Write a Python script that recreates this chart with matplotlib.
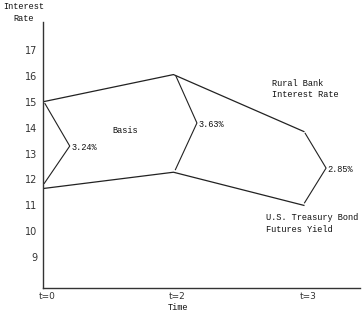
import matplotlib
matplotlib.use("Agg")
import matplotlib.pyplot as plt
import matplotlib.transforms as mtransforms

# Data
time_labels = ["t=0", "t=2", "t=3"]
time_pos = [0, 1, 2]
rural_bank_rate = [15.0, 16.05, 13.85]
treasury_yield = [11.65, 12.28, 11.0]
basis_labels = ["3.24%", "3.63%", "2.85%"]
y_ticks = [9, 10, 11, 12, 13, 14, 15, 16, 17]

MONO = "Liberation Mono"
LC = "#222222"
FS = 6.2

fig = plt.figure(figsize=(3.62, 3.20), dpi=100)
ax = fig.add_axes([43/362, 32/320, (360-43)/362, (288-22)/320])

ax.plot(time_pos, rural_bank_rate, color=LC, lw=0.9)
ax.plot(time_pos, treasury_yield, color=LC, lw=0.9)

# basis brackets (drawn between the two series at each time point)
offsets = [(0.015, 0.19), (0.02, 0.16), (0.01, 0.16)]
for i, (x, top, bot, lab) in enumerate(zip(time_pos, rural_bank_rate, treasury_yield, basis_labels)):
    x0, dx = offsets[i]
    t = top - 0.07
    b = bot + 0.2 if i == 0 else bot + 0.1
    mid = (t + b) / 2 - (0.0 if i else 0.1)
    ax.plot([x + x0, x + x0 + dx, x + x0 - 0.005], [t, mid, b], color=LC, lw=0.8)
    ax.text(x + x0 + dx + 0.01, mid - 0.05, lab, fontsize=FS, family=MONO,
            ha="left", va="center", color="#111")

ax.text(0.53, 13.9, "Basis", fontsize=FS, family=MONO, ha="left", va="center", color="#111")
ax.text(1.755, 15.5, "Rural Bank\nInterest Rate", fontsize=FS, family=MONO,
        ha="left", va="center", linespacing=1.35, color="#111")
ax.text(1.71, 10.3, "U.S. Treasury Bond\nFutures Yield", fontsize=FS, family=MONO,
        ha="left", va="center", linespacing=1.35, color="#111")

ax.set_xlim(0, 2.43)
ax.set_ylim(7.81, 18.08)
ax.set_yticks(y_ticks)
ax.set_yticklabels([str(v) for v in y_ticks], fontsize=7, color="#333")
ax.set_xticks(time_pos)
ax.set_xticklabels(time_labels, fontsize=6.5, color="#333")
ax.tick_params(axis="both", length=0)
ax.tick_params(axis="y", pad=4)
ax.tick_params(axis="x", pad=3)
for lab in ax.get_xticklabels():
    lab.set_transform(lab.get_transform() + mtransforms.ScaledTranslation(4/100, 0, fig.dpi_scale_trans))

for s in ["top", "right"]:
    ax.spines[s].set_visible(False)
for s in ["left", "bottom"]:
    ax.spines[s].set_color("#333")
    ax.spines[s].set_linewidth(1.0)

fig.text(24/362, 1 - 12.5/320, "Interest\nRate", fontsize=FS, family=MONO,
         ha="center", va="center", linespacing=1.45, color="#111")
fig.text(178/362, 1 - 308/320, "Time", fontsize=FS, family=MONO,
         ha="center", va="center", color="#111")

fig.savefig("out.png", dpi=100)
